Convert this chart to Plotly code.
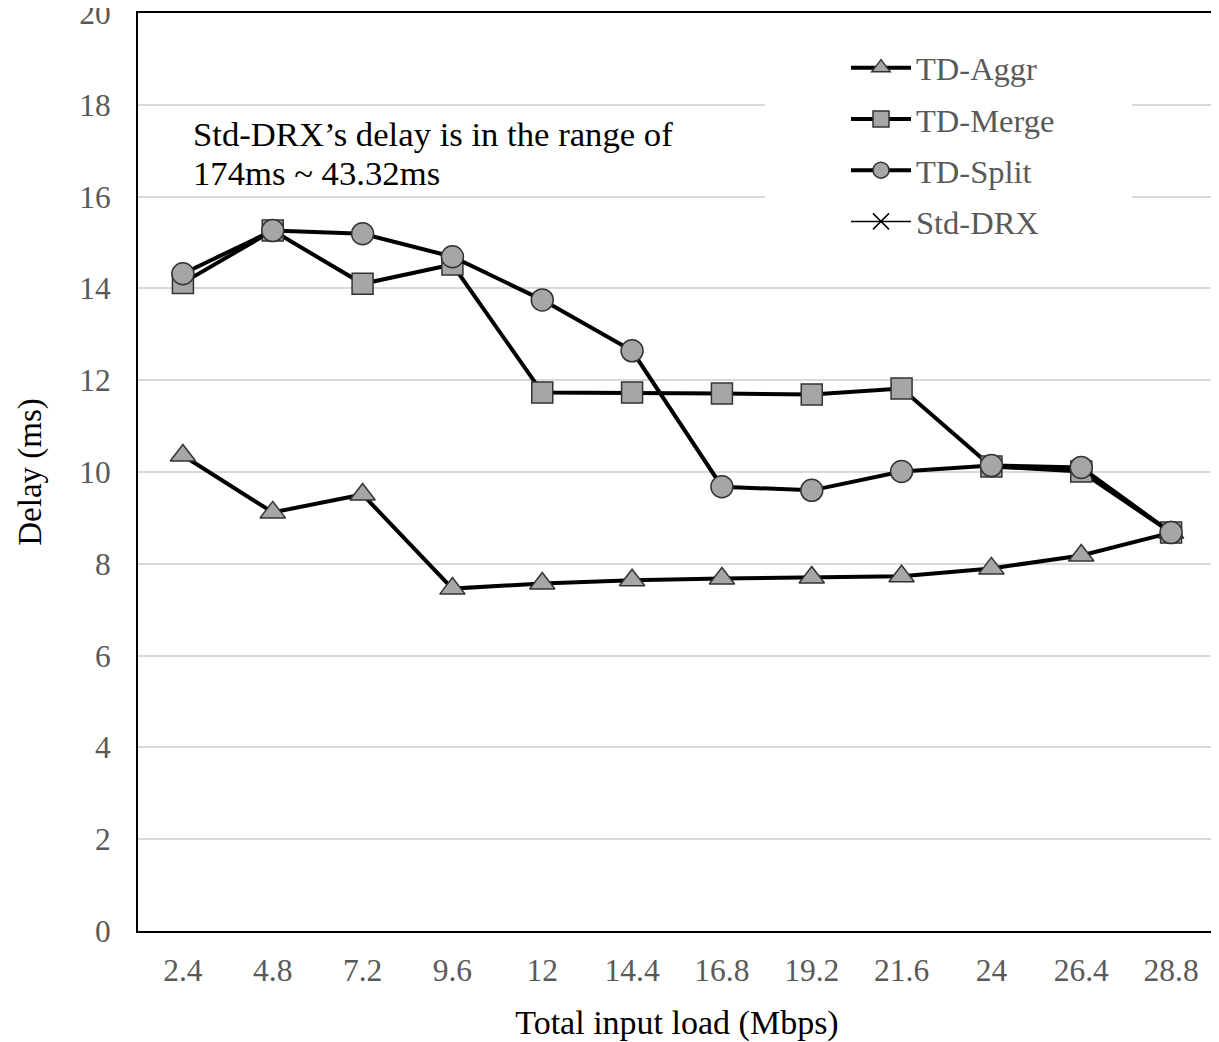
import plotly.graph_objects as go

loads = ["2.4", "4.8", "7.2", "9.6", "12", "14.4", "16.8", "19.2", "21.6", "24", "26.4", "28.8"]
td_aggr = [10.36, 9.12, 9.51, 7.46, 7.57, 7.64, 7.68, 7.70, 7.73, 7.90, 8.18, 8.68]
td_merge = [14.12, 15.26, 14.10, 14.52, 11.73, 11.73, 11.71, 11.69, 11.82, 10.12, 10.01, 8.68]
td_split = [14.32, 15.26, 15.19, 14.69, 13.75, 12.64, 9.68, 9.60, 10.01, 10.14, 10.10, 8.68]
std_drx = [None] * len(loads)  # off-scale (174ms ~ 43.32ms)

OFF = 8  # page body margin
W, H = 1219 - OFF, 1042 - OFF
ML, MT = 138 - OFF, 13 - OFF
PW, PH = 1078, 918
MR, MB = W - ML - PW, H - MT - PH

def px_x(p):  # reference pixel -> paper
    return (p - OFF - ML) / PW

def px_y(p):
    return (MT + PH - (p - OFF)) / PH

FONT = "Liberation Serif, Times New Roman, serif"
MFILL = "#a6a6a6"
MLINE = dict(color="#333333", width=1.5)

fig = go.Figure()
fig.add_trace(go.Scatter(x=loads, y=td_aggr, name="TD-Aggr", mode="lines+markers",
                         line=dict(color="black", width=4), legendgroup="a",
                         marker=dict(symbol="triangle-up", size=22, color=MFILL, line=MLINE)))
fig.add_trace(go.Scatter(x=loads, y=td_merge, name="TD-Merge", mode="lines+markers",
                         line=dict(color="black", width=4), legendgroup="b",
                         marker=dict(symbol="square", size=21, color=MFILL, line=MLINE)))
fig.add_trace(go.Scatter(x=loads, y=td_split, name="TD-Split", mode="lines+markers",
                         line=dict(color="black", width=4), legendgroup="c",
                         marker=dict(symbol="circle", size=22, color=MFILL, line=MLINE)))
fig.add_trace(go.Scatter(x=loads, y=std_drx, name="Std-DRX", mode="lines+markers",
                         line=dict(color="black", width=1.5), legendgroup="d",
                         marker=dict(symbol="x-thin", size=16, color="black",
                                     line=dict(color="black", width=1.5))))

fig.add_shape(type="rect", xref="paper", yref="paper",
              x0=px_x(765), x1=px_x(1132), y0=px_y(250), y1=px_y(40),
              fillcolor="white", line=dict(width=0), layer="above")

fig.add_annotation(xref="paper", yref="paper", x=px_x(191), y=px_y(134),
                   xanchor="left", yanchor="middle", showarrow=False,
                   text="Std-DRX’s delay is in the range of",
                   font=dict(family=FONT, size=34.7, color="black"))
fig.add_annotation(xref="paper", yref="paper", x=px_x(191), y=px_y(173),
                   xanchor="left", yanchor="middle", showarrow=False,
                   text="174ms ~ 43.32ms",
                   font=dict(family=FONT, size=34.7, color="black"))

fig.update_layout(
    width=W, height=H,
    margin=dict(l=ML, r=MR, t=MT, b=MB, autoexpand=False),
    paper_bgcolor="white", plot_bgcolor="white",
    font=dict(family=FONT, size=31, color="#595959"),
    legend=dict(x=px_x(846), y=px_y(40), xanchor="left", yanchor="top",
                bgcolor="rgba(0,0,0,0)", font=dict(family=FONT, size=32.5, color="#595959"),
                traceorder="grouped", tracegroupgap=6, itemwidth=60),
    xaxis=dict(type="category", showgrid=False, showline=True, mirror=True,
               linecolor="black", linewidth=2, ticks="", ticklabelstandoff=10,
               automargin=False,
               tickfont=dict(family=FONT, size=31.5, color="#595959"),
               title=dict(text="Total input load (Mbps)", standoff=24,
                          font=dict(family=FONT, size=34, color="black")),
               range=[-0.5, 11.5], zeroline=False),
    yaxis=dict(range=[0, 20], dtick=2, showgrid=True, gridcolor="#d9d9d9", gridwidth=2,
               showline=True, mirror=True, linecolor="black", linewidth=2,
               ticks="", ticklabelstandoff=19, zeroline=False, ticklabeloverflow="allow",
               automargin=False,
               tickfont=dict(family=FONT, size=31.5, color="#595959"),
               title=dict(text="Delay (ms)", standoff=28,
                          font=dict(family=FONT, size=33, color="black"))),
    showlegend=True,
)

fig.write_html("out.html")
